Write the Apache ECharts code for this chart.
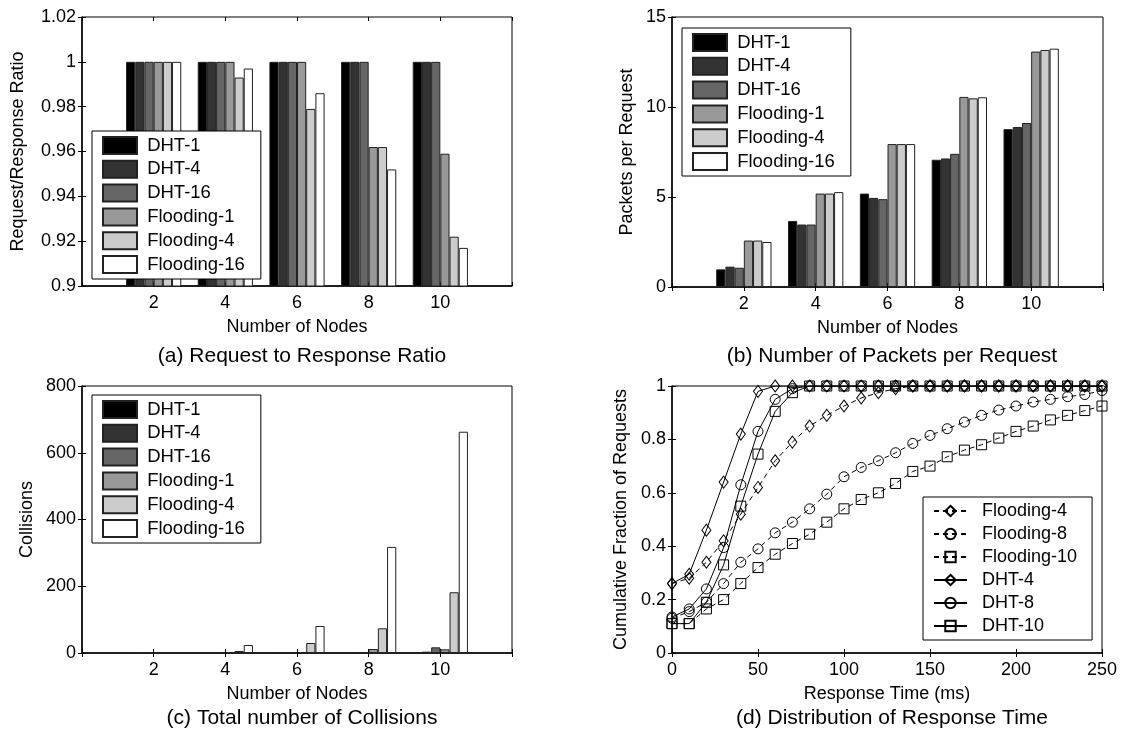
<!DOCTYPE html>
<html>
<head>
<meta charset="utf-8">
<title>DHT vs Flooding</title>
<script src="https://cdn.jsdelivr.net/npm/echarts@6/dist/echarts.min.js"></script>
<style>
  body { margin: 0; background: #fff; }
  #chart { width: 1122px; height: 736px; }
</style>
</head>
<body>
<div id="chart"></div>
<script>
const nodes = [2, 4, 6, 8, 10];
const barNames = ["DHT-1", "DHT-4", "DHT-16", "Flooding-1", "Flooding-4", "Flooding-16"];
const barColors = ["#000000", "#333333", "#666666", "#999999", "#cccccc", "#ffffff"];

// (a) request / response ratio
const ratioDht1 = [1, 1, 1, 1, 1];
const ratioDht4 = [1, 1, 1, 1, 1];
const ratioDht16 = [1, 1, 1, 1, 1];
const ratioFlood1 = [1, 1, 1, 0.962, 0.959];
const ratioFlood4 = [1, 0.993, 0.979, 0.962, 0.922];
const ratioFlood16 = [1, 0.997, 0.986, 0.952, 0.917];

// (b) packets per request
const pktDht1 = [0.98, 3.67, 5.19, 7.07, 8.77];
const pktDht4 = [1.13, 3.47, 4.95, 7.14, 8.89];
const pktDht16 = [1.07, 3.47, 4.88, 7.4, 9.11];
const pktFlood1 = [2.58, 5.19, 7.94, 10.56, 13.08];
const pktFlood4 = [2.58, 5.19, 7.94, 10.48, 13.17];
const pktFlood16 = [2.5, 5.27, 7.94, 10.54, 13.24];

// (c) collisions
const colDht1 = [0, 1, 2, 1, 2];
const colDht4 = [0, 1, 2, 2, 4];
const colDht16 = [0, 2, 2, 3, 17];
const colFlood1 = [0, 2, 3, 12, 11];
const colFlood4 = [1, 6, 30, 74, 182];
const colFlood16 = [1, 24, 81, 318, 663];

// (d) response time CDF
const times = [0, 10, 20, 30, 40, 50, 60, 70, 80, 90, 100, 110, 120, 130, 140, 150, 160, 170, 180, 190, 200, 210, 220, 230, 240, 250];
const cdfFlood4 = [0.26, 0.28, 0.34, 0.42, 0.52, 0.62, 0.72, 0.79, 0.85, 0.89, 0.925, 0.955, 0.975, 0.99, 1, 1, 1, 1, 1, 1, 1, 1, 1, 1, 1, 1];
const cdfFlood8 = [0.13, 0.155, 0.19, 0.26, 0.34, 0.39, 0.45, 0.49, 0.54, 0.595, 0.66, 0.695, 0.72, 0.75, 0.785, 0.815, 0.84, 0.865, 0.89, 0.91, 0.925, 0.94, 0.95, 0.96, 0.968, 0.983];
const cdfFlood10 = [0.11, 0.11, 0.165, 0.2, 0.26, 0.32, 0.37, 0.41, 0.445, 0.49, 0.54, 0.575, 0.6, 0.635, 0.68, 0.7, 0.735, 0.76, 0.78, 0.805, 0.83, 0.85, 0.873, 0.89, 0.908, 0.925];
const cdfDht4 = [0.26, 0.295, 0.46, 0.64, 0.82, 0.98, 1, 1, 1, 1, 1, 1, 1, 1, 1, 1, 1, 1, 1, 1, 1, 1, 1, 1, 1, 1];
const cdfDht8 = [0.135, 0.165, 0.24, 0.395, 0.63, 0.83, 0.95, 0.99, 1, 1, 1, 1, 1, 1, 1, 1, 1, 1, 1, 1, 1, 1, 1, 1, 1, 1];
const cdfDht10 = [0.11, 0.11, 0.19, 0.33, 0.55, 0.745, 0.905, 0.975, 1, 1, 1, 1, 1, 1, 1, 1, 1, 1, 1, 1, 1, 1, 1, 1, 1, 1];

const fontFamily = "'Liberation Sans', Arial, Helvetica, sans-serif";
const black = "#000";

const grids = [
  { left: 82, top: 17, width: 430, height: 269 },
  { left: 672, top: 17, width: 431, height: 270 },
  { left: 82, top: 386, width: 430, height: 267 },
  { left: 672, top: 386, width: 430, height: 267 },
];

const xAxes = [];
const yAxes = [];

function addAxes(g, x, y) {
  const tick = { show: true, inside: true, length: 4, lineStyle: { color: black } };
  xAxes.push({
    type: "value", gridIndex: g, position: "bottom",
    min: x.min, max: x.max, interval: x.interval,
    name: x.name, nameLocation: "middle", nameGap: 32,
    nameTextStyle: { fontSize: 18, color: black, fontFamily },
    axisLine: { show: true, lineStyle: { color: black, width: 1.5 } },
    axisTick: tick,
    axisLabel: { margin: 8, fontSize: 18, color: black, fontFamily, formatter: x.formatter },
    splitLine: { show: false },
  });
  xAxes.push({
    type: "value", gridIndex: g, position: "top",
    min: x.min, max: x.max, interval: x.interval,
    axisLine: { show: false }, axisTick: tick,
    axisLabel: { show: false }, splitLine: { show: false },
  });
  yAxes.push({
    type: "value", gridIndex: g, position: "left",
    min: y.min, max: y.max, interval: y.interval,
    name: y.name, nameLocation: "middle", nameGap: y.nameGap,
    nameTextStyle: { fontSize: 18, color: black, fontFamily },
    axisLine: { show: true, lineStyle: { color: black, width: 1.5 } },
    axisTick: tick,
    axisLabel: { margin: 6, fontSize: 18, color: black, fontFamily },
    splitLine: { show: false },
  });
  yAxes.push({
    type: "value", gridIndex: g, position: "right",
    min: y.min, max: y.max, interval: y.interval,
    axisLine: { show: false }, axisTick: tick,
    axisLabel: { show: false }, splitLine: { show: false },
  });
}

const nodeLabel = (v) => (v === 0 || v === 12 ? "" : v);
const nodeAxis = { min: 0, max: 12, interval: 2, name: "Number of Nodes", formatter: nodeLabel };

addAxes(0, nodeAxis, { min: 0.9, max: 1.02, interval: 0.02, name: "Request/Response Ratio", nameGap: 55 });
addAxes(1, nodeAxis, { min: 0, max: 15, interval: 5, name: "Packets per Request", nameGap: 36 });
addAxes(2, nodeAxis, { min: 0, max: 800, interval: 200, name: "Collisions", nameGap: 46 });
addAxes(3, { min: 0, max: 250, interval: 50, name: "Response Time (ms)" },
  { min: 0, max: 1, interval: 0.2, name: "Cumulative Fraction of Requests", nameGap: 42 });

const series = [];

function addBars(g, prefix, lists) {
  lists.forEach((vals, i) => {
    series.push({
      name: prefix + barNames[i],
      type: "bar",
      xAxisIndex: g * 2,
      yAxisIndex: g * 2,
      barGap: "0%",
      barCategoryGap: "23%",
      clip: true,
      itemStyle: { color: barColors[i], borderColor: "#222", borderWidth: 1 },
      data: nodes.map((n, k) => [n, vals[k]]),
    });
  });
}

addBars(0, "a:", [ratioDht1, ratioDht4, ratioDht16, ratioFlood1, ratioFlood4, ratioFlood16]);
addBars(1, "b:", [pktDht1, pktDht4, pktDht16, pktFlood1, pktFlood4, pktFlood16]);
addBars(2, "c:", [colDht1, colDht4, colDht16, colFlood1, colFlood4, colFlood16]);

const cdfNames = ["Flooding-4", "Flooding-8", "Flooding-10", "DHT-4", "DHT-8", "DHT-10"];
const cdfLists = [cdfFlood4, cdfFlood8, cdfFlood10, cdfDht4, cdfDht8, cdfDht10];
const cdfSymbols = ["diamond", "circle", "rect", "diamond", "circle", "rect"];
const cdfSizes = [[9, 12], 10, 10, [9, 12], 10, 10];

cdfLists.forEach((vals, i) => {
  series.push({
    name: "d:" + cdfNames[i],
    type: "line",
    xAxisIndex: 6,
    yAxisIndex: 6,
    symbol: cdfSymbols[i],
    symbolSize: cdfSizes[i],
    showAllSymbol: true,
    lineStyle: { color: black, width: 1, type: i < 3 ? [5, 4] : "solid" },
    itemStyle: { color: "rgba(255,255,255,0)", borderColor: black, borderWidth: 1 },
    data: times.map((t, k) => [t, vals[k]]),
  });
});

function legend(prefix, names, left, top, extra) {
  return Object.assign({
    orient: "vertical",
    left: left,
    top: top,
    z: 10,
    icon: "rect",
    itemWidth: 34,
    itemHeight: 17,
    itemGap: 4.8,
    padding: [5, 16, 5, 10],
    backgroundColor: "#fff",
    borderColor: black,
    borderWidth: 1,
    selectedMode: false,
    textStyle: { fontSize: 18.5, color: black, fontFamily },
    formatter: (name) => "\u00a0" + name.split(":")[1],
    data: names.map((n) => prefix + n),
  }, extra || {});
}

const titleStyle = { fontSize: 21, fontWeight: "normal", color: black, fontFamily };

const option = {
  animation: false,
  backgroundColor: "#fff",
  textStyle: { fontFamily },
  title: [
    { text: "(a) Request to Response Ratio", left: 297, top: 341, textAlign: "center", textStyle: titleStyle },
    { text: "(b) Number of Packets per Request", left: 887, top: 341, textAlign: "center", textStyle: titleStyle },
    { text: "(c) Total number of Collisions", left: 297, top: 703, textAlign: "center", textStyle: titleStyle },
    { text: "(d) Distribution of Response Time", left: 887, top: 703, textAlign: "center", textStyle: titleStyle },
  ],
  grid: grids.map((g) => Object.assign({ show: true, borderColor: black, borderWidth: 1, backgroundColor: "#fff" }, g)),
  legend: [
    legend("a:", barNames, 92, 131),
    legend("b:", barNames, 682, 28),
    legend("c:", barNames, 92, 395),
    legend("d:", cdfNames, 923, 497, { icon: null, itemWidth: 33, itemHeight: 13, itemGap: 5, padding: [5, 15, 5, 10],
      textStyle: { fontSize: 18, color: black, fontFamily },
      formatter: (name) => "\u00a0\u00a0" + name.split(":")[1] }),
  ],
  xAxis: xAxes,
  yAxis: yAxes,
  series: series,
};

const myChart = echarts.init(document.getElementById("chart"));
myChart.setOption(option);
</script>
</body>
</html>
